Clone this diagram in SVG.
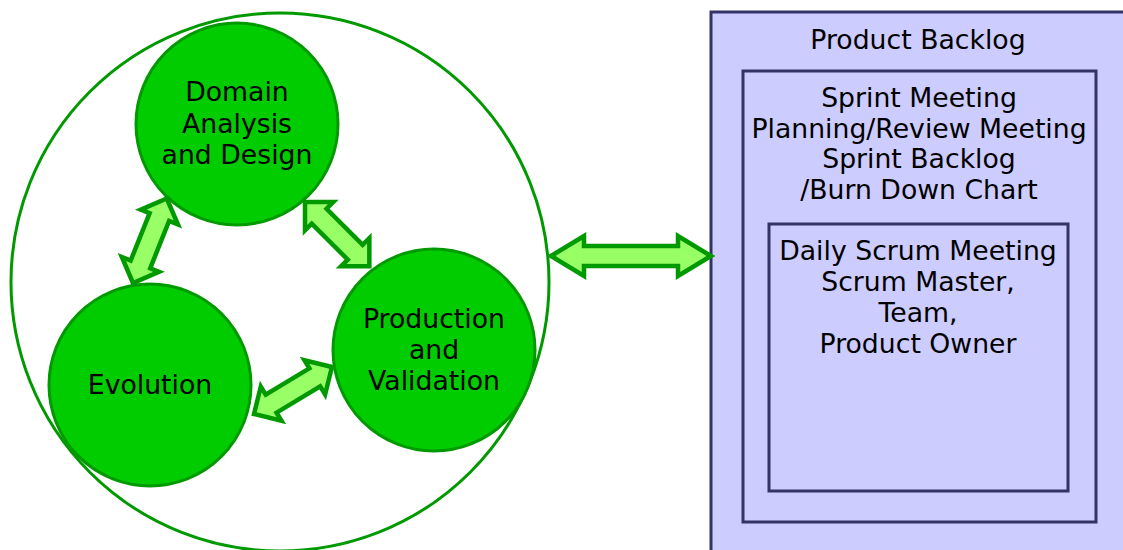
<svg xmlns="http://www.w3.org/2000/svg" width="1123" height="550" viewBox="0 0 1123 550">
<style>
.big{fill:none;stroke:#009900;stroke-width:3}
.node{fill:#00cc00;stroke:#009900;stroke-width:3}
.arr{fill:#99ff66;stroke:#009900;stroke-width:4.5;stroke-linejoin:miter}
.box{fill:#ccccff;stroke:#333366;stroke-width:3}
text{font-family:"DejaVu Sans",sans-serif;font-size:26.7px;fill:#000;text-anchor:middle}
</style>
<defs>
<path id="da" d="M0,0 L20,-20 L20,-10.5 L71,-10.5 L71,-20 L91,0 L71,20 L71,10.5 L20,10.5 L20,20 Z"/>
</defs>
<g id="cycle">
<circle class="big" cx="280" cy="282" r="269"/>
</g>
<g id="backlog">
<rect class="box" x="711" y="12" width="430" height="540"/>
<text x="918" y="49">Product Backlog</text>
</g>
<g id="sprint">
<rect class="box" x="743" y="71" width="353" height="451"/>
<text x="919" y="107">Sprint Meeting</text>
<text x="919" y="138">Planning/Review Meeting</text>
<text x="919" y="168">Sprint Backlog</text>
<text x="919" y="199">/Burn Down Chart</text>
</g>
<g id="daily">
<rect class="box" x="769" y="224" width="299" height="267"/>
<text x="918" y="260">Daily Scrum Meeting</text>
<text x="918" y="291">Scrum Master,</text>
<text x="918" y="322">Team,</text>
<text x="918" y="353">Product Owner</text>
</g>
<g id="domain">
<circle class="node" cx="237" cy="124" r="101"/>
<text x="237" y="101">Domain</text>
<text x="237" y="133">Analysis</text>
<text x="237" y="164">and Design</text>
</g>
<g id="evolution">
<circle class="node" cx="150" cy="385" r="101"/>
<text x="150" y="394">Evolution</text>
</g>
<g id="production">
<circle class="node" cx="434" cy="350" r="101"/>
<text x="434" y="328">Production</text>
<text x="434" y="359">and</text>
<text x="434" y="390">Validation</text>
</g>
<g id="connectors">
<use href="#da" class="arr" transform="translate(133,283) rotate(-68.2)"/>
<use href="#da" class="arr" transform="translate(305,202) rotate(45)"/>
<use href="#da" class="arr" transform="translate(254,414) rotate(-31.1)"/>
<path class="arr" d="M551,256 L584,236 L584,246 L678,246 L678,236 L711,256 L678,276 L678,266 L584,266 L584,276 Z"/>
</g>
</svg>
